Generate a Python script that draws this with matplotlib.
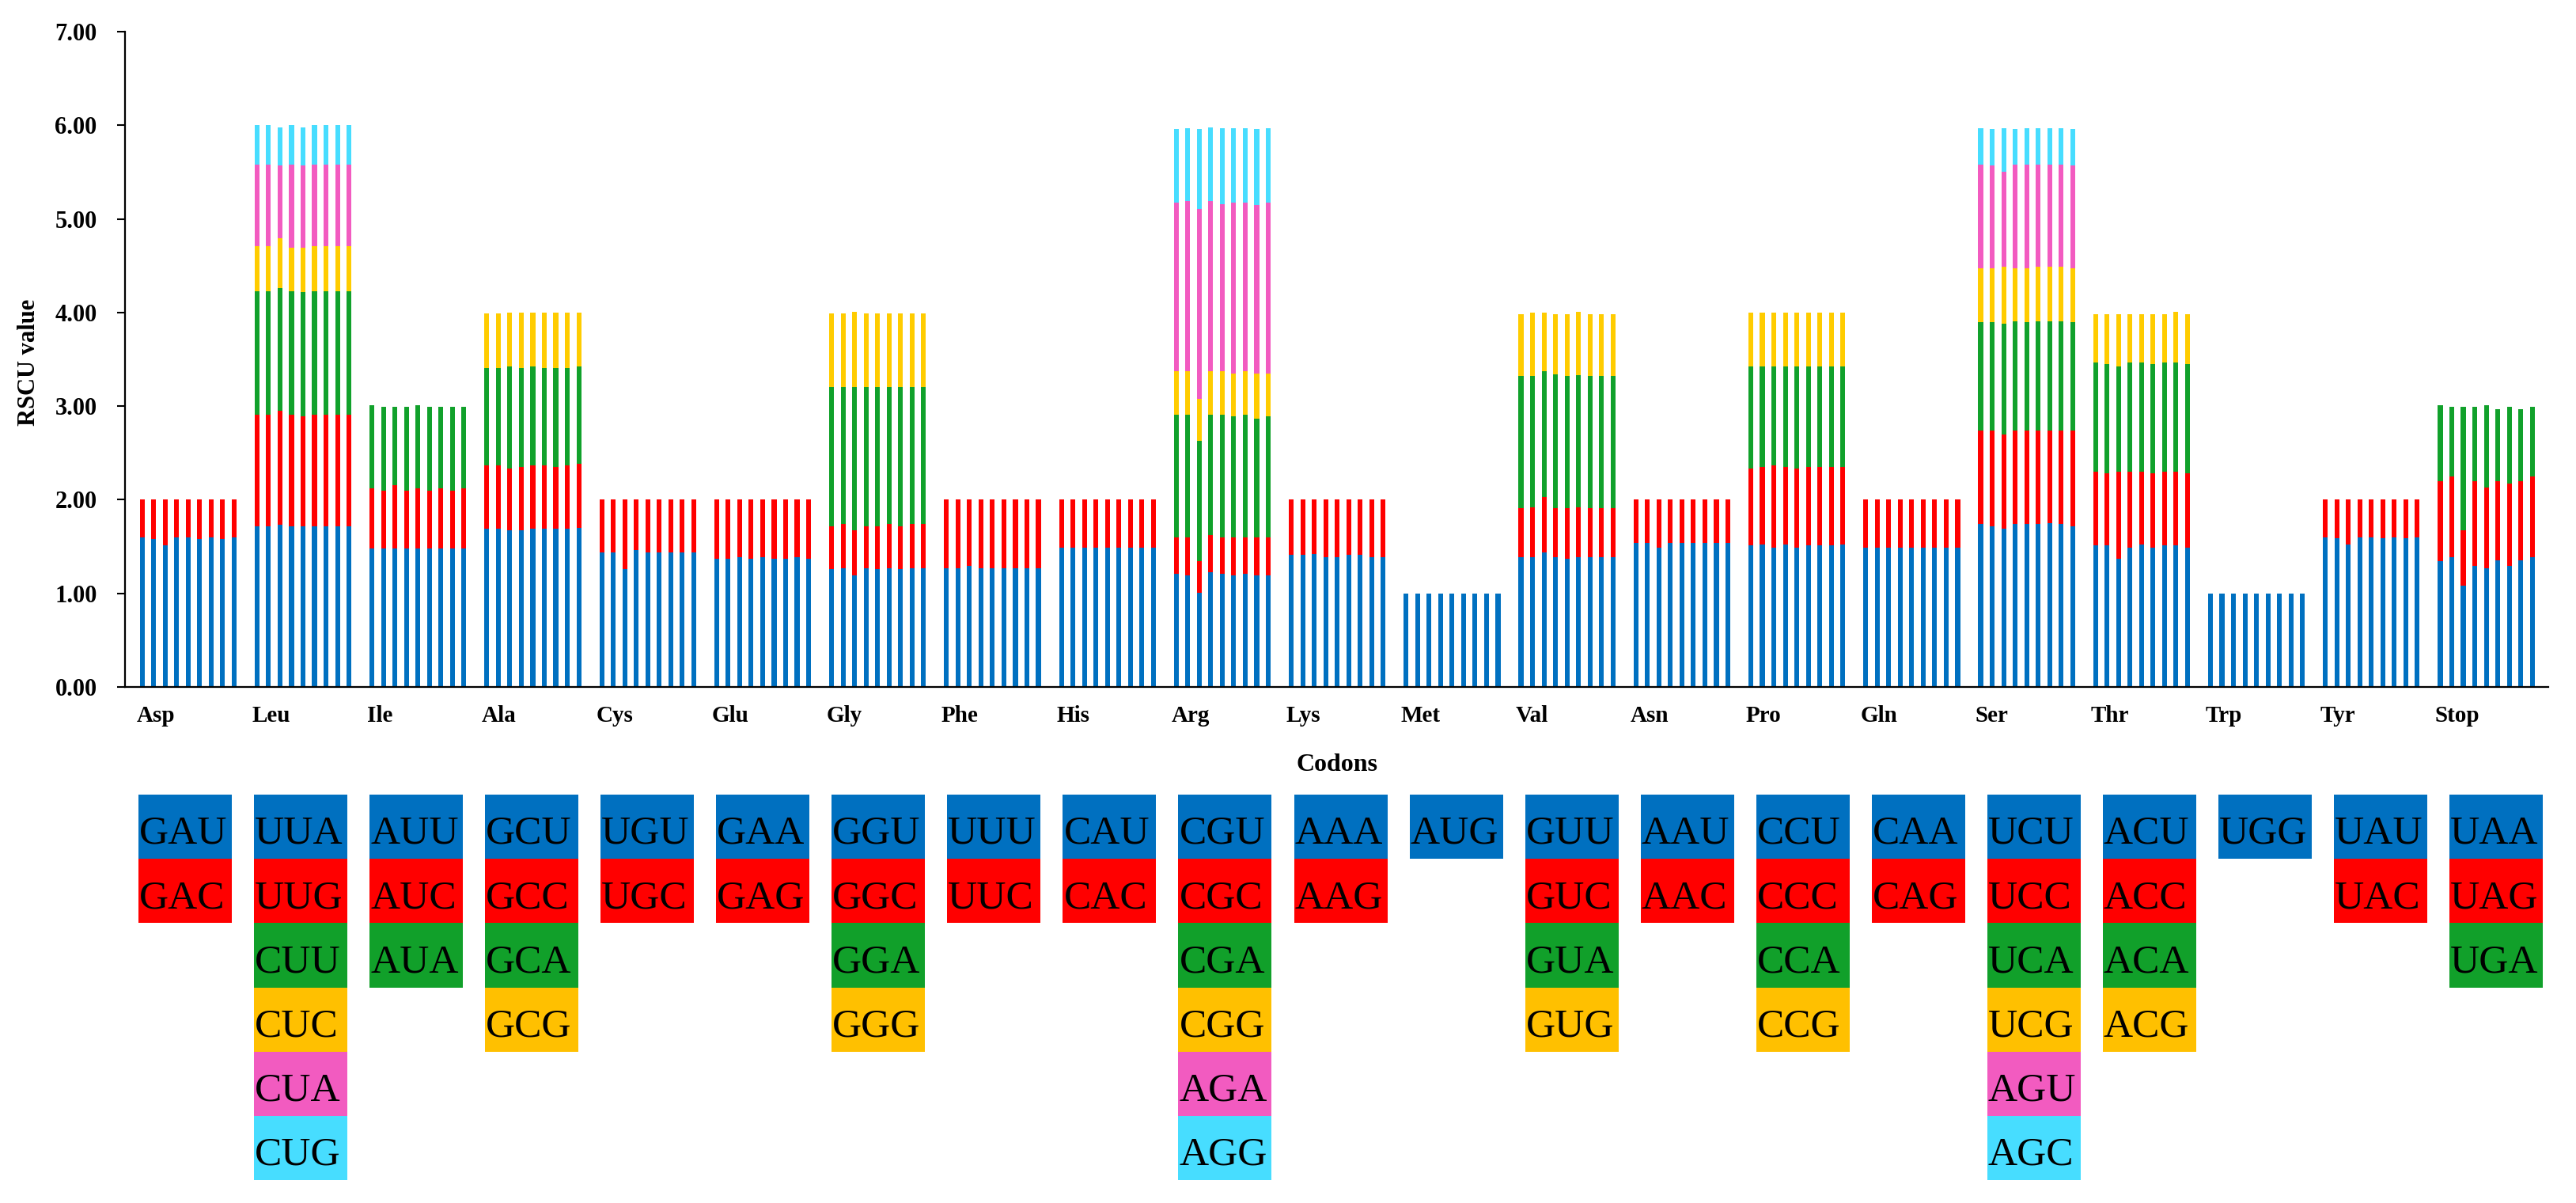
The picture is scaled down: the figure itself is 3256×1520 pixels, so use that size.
import matplotlib
matplotlib.use("Agg")
import matplotlib.pyplot as plt
from matplotlib.patches import Rectangle

# ---------------- data ----------------
amino_acids = ["Asp", "Leu", "Ile", "Ala", "Cys", "Glu", "Gly", "Phe", "His", "Arg", "Lys",
               "Met", "Val", "Asn", "Pro", "Gln", "Ser", "Thr", "Trp", "Tyr", "Stop"]

codons = [
    ["GAU", "GAC"],
    ["UUA", "UUG", "CUU", "CUC", "CUA", "CUG"],
    ["AUU", "AUC", "AUA"],
    ["GCU", "GCC", "GCA", "GCG"],
    ["UGU", "UGC"],
    ["GAA", "GAG"],
    ["GGU", "GGC", "GGA", "GGG"],
    ["UUU", "UUC"],
    ["CAU", "CAC"],
    ["CGU", "CGC", "CGA", "CGG", "AGA", "AGG"],
    ["AAA", "AAG"],
    ["AUG"],
    ["GUU", "GUC", "GUA", "GUG"],
    ["AAU", "AAC"],
    ["CCU", "CCC", "CCA", "CCG"],
    ["CAA", "CAG"],
    ["UCU", "UCC", "UCA", "UCG", "AGU", "AGC"],
    ["ACU", "ACC", "ACA", "ACG"],
    ["UGG"],
    ["UAU", "UAC"],
    ["UAA", "UAG", "UGA"],
]

# RSCU values, one list per codon, nine samples each
asp = [[1.60, 1.58, 1.51, 1.60, 1.60, 1.58, 1.60, 1.58, 1.60],
       [0.40, 0.42, 0.49, 0.40, 0.40, 0.42, 0.40, 0.42, 0.40]]
leu = [[1.72, 1.72, 1.73, 1.72, 1.72, 1.72, 1.72, 1.72, 1.72],
       [1.19, 1.19, 1.22, 1.19, 1.17, 1.19, 1.19, 1.19, 1.19],
       [1.32, 1.32, 1.31, 1.32, 1.33, 1.32, 1.32, 1.32, 1.32],
       [0.48, 0.48, 0.53, 0.46, 0.47, 0.48, 0.48, 0.48, 0.48],
       [0.87, 0.87, 0.78, 0.89, 0.88, 0.87, 0.87, 0.87, 0.87],
       [0.42, 0.42, 0.41, 0.42, 0.41, 0.42, 0.42, 0.42, 0.42]]
ile = [[1.48, 1.48, 1.48, 1.48, 1.48, 1.48, 1.48, 1.48, 1.48],
       [0.64, 0.62, 0.68, 0.62, 0.64, 0.62, 0.64, 0.62, 0.64],
       [0.89, 0.89, 0.83, 0.89, 0.89, 0.89, 0.87, 0.89, 0.87]]
ala = [[1.69, 1.69, 1.67, 1.67, 1.69, 1.69, 1.69, 1.69, 1.70],
       [0.68, 0.68, 0.66, 0.68, 0.68, 0.68, 0.66, 0.68, 0.68],
       [1.04, 1.04, 1.09, 1.06, 1.05, 1.04, 1.06, 1.04, 1.04],
       [0.58, 0.58, 0.58, 0.59, 0.58, 0.59, 0.59, 0.59, 0.58]]
cys = [[1.44, 1.44, 1.26, 1.46, 1.44, 1.44, 1.44, 1.44, 1.44],
       [0.56, 0.56, 0.74, 0.54, 0.56, 0.56, 0.56, 0.56, 0.56]]
glu = [[1.37, 1.37, 1.39, 1.37, 1.39, 1.37, 1.37, 1.39, 1.37],
       [0.63, 0.63, 0.61, 0.63, 0.61, 0.63, 0.63, 0.61, 0.63]]
gly = [[1.26, 1.27, 1.19, 1.27, 1.26, 1.27, 1.26, 1.27, 1.27],
       [0.46, 0.47, 0.48, 0.45, 0.46, 0.47, 0.46, 0.47, 0.47],
       [1.48, 1.46, 1.53, 1.48, 1.48, 1.46, 1.48, 1.46, 1.46],
       [0.79, 0.79, 0.81, 0.79, 0.79, 0.79, 0.79, 0.79, 0.79]]
phe = [[1.27, 1.27, 1.29, 1.27, 1.27, 1.27, 1.27, 1.27, 1.27],
       [0.73, 0.73, 0.71, 0.73, 0.73, 0.73, 0.73, 0.73, 0.73]]
his = [[1.49, 1.49, 1.49, 1.49, 1.49, 1.49, 1.49, 1.49, 1.49],
       [0.51, 0.51, 0.51, 0.51, 0.51, 0.51, 0.51, 0.51, 0.51]]
arg = [[1.21, 1.19, 1.01, 1.23, 1.21, 1.19, 1.21, 1.19, 1.19],
       [0.39, 0.41, 0.33, 0.39, 0.39, 0.41, 0.39, 0.41, 0.41],
       [1.31, 1.31, 1.29, 1.29, 1.31, 1.29, 1.31, 1.27, 1.29],
       [0.46, 0.46, 0.45, 0.46, 0.46, 0.46, 0.46, 0.48, 0.46],
       [1.80, 1.82, 2.03, 1.82, 1.79, 1.82, 1.80, 1.80, 1.82],
       [0.79, 0.78, 0.85, 0.79, 0.81, 0.80, 0.80, 0.81, 0.80]]
lys = [[1.41, 1.41, 1.42, 1.39, 1.39, 1.41, 1.41, 1.39, 1.39],
       [0.59, 0.59, 0.58, 0.61, 0.61, 0.59, 0.59, 0.61, 0.61]]
met = [[1.00, 1.00, 1.00, 1.00, 1.00, 1.00, 1.00, 1.00, 1.00]]
val = [[1.39, 1.39, 1.44, 1.39, 1.37, 1.39, 1.39, 1.39, 1.39],
       [0.52, 0.53, 0.59, 0.52, 0.54, 0.53, 0.52, 0.52, 0.52],
       [1.41, 1.40, 1.34, 1.43, 1.41, 1.41, 1.41, 1.41, 1.41],
       [0.66, 0.68, 0.63, 0.64, 0.66, 0.68, 0.66, 0.66, 0.66]]
asn = [[1.54, 1.54, 1.49, 1.54, 1.54, 1.54, 1.54, 1.54, 1.54],
       [0.46, 0.46, 0.51, 0.46, 0.46, 0.46, 0.46, 0.46, 0.46]]
pro = [[1.51, 1.52, 1.49, 1.52, 1.49, 1.51, 1.51, 1.51, 1.52],
       [0.82, 0.83, 0.88, 0.83, 0.84, 0.84, 0.84, 0.84, 0.83],
       [1.09, 1.07, 1.05, 1.07, 1.09, 1.07, 1.07, 1.07, 1.07],
       [0.58, 0.58, 0.58, 0.58, 0.58, 0.58, 0.58, 0.58, 0.58]]
gln = [[1.49, 1.49, 1.49, 1.49, 1.49, 1.49, 1.49, 1.49, 1.49],
       [0.51, 0.51, 0.51, 0.51, 0.51, 0.51, 0.51, 0.51, 0.51]]
ser = [[1.74, 1.72, 1.69, 1.74, 1.74, 1.74, 1.75, 1.74, 1.72],
       [1.00, 1.02, 1.01, 1.00, 1.00, 1.00, 0.99, 1.00, 1.02],
       [1.16, 1.16, 1.18, 1.17, 1.16, 1.17, 1.17, 1.17, 1.16],
       [0.57, 0.57, 0.61, 0.56, 0.57, 0.58, 0.58, 0.58, 0.57],
       [1.11, 1.10, 1.01, 1.11, 1.11, 1.09, 1.09, 1.09, 1.10],
       [0.39, 0.39, 0.47, 0.38, 0.39, 0.39, 0.39, 0.39, 0.39]]
thr = [[1.51, 1.51, 1.37, 1.49, 1.52, 1.49, 1.51, 1.51, 1.49],
       [0.79, 0.77, 0.93, 0.81, 0.78, 0.79, 0.79, 0.79, 0.79],
       [1.17, 1.17, 1.12, 1.17, 1.17, 1.17, 1.17, 1.17, 1.17],
       [0.51, 0.53, 0.56, 0.51, 0.51, 0.53, 0.51, 0.54, 0.53]]
trp = [[1.00, 1.00, 1.00, 1.00, 1.00, 1.00, 1.00, 1.00, 1.00]]
tyr = [[1.60, 1.59, 1.52, 1.60, 1.60, 1.59, 1.60, 1.59, 1.60],
       [0.40, 0.41, 0.48, 0.40, 0.40, 0.41, 0.40, 0.41, 0.40]]
stop = [[1.34, 1.39, 1.08, 1.29, 1.27, 1.35, 1.29, 1.35, 1.39],
        [0.86, 0.86, 0.59, 0.91, 0.86, 0.85, 0.88, 0.85, 0.86],
        [0.81, 0.74, 1.32, 0.79, 0.88, 0.77, 0.82, 0.77, 0.74]]

yticks = [0, 1, 2, 3, 4, 5, 6, 7]

groups = [asp, leu, ile, ala, cys, glu, gly, phe, his, arg, lys,
          met, val, asn, pro, gln, ser, thr, trp, tyr, stop]

# ---------------- style ----------------
bar_colors = ["#0070C0", "#FF0000", "#11A12B", "#FFCC00", "#F25BC0", "#47DDFF"]
box_colors = ["#0070C0", "#FF0000", "#11A02A", "#FFC000", "#F25BC0", "#47DDFF"]
SERIF = ["Liberation Serif", "DejaVu Serif"]

W, H = 3256, 1520
fig = plt.figure(figsize=(W / 100, H / 100), dpi=100)
fig.patch.set_facecolor("white")

ax_l, ax_r, ax_t, ax_b = 158, 3221, 40, 868
ax = fig.add_axes([ax_l / W, 1 - ax_b / H, (ax_r - ax_l) / W, (ax_b - ax_t) / H])

pitch = 0.1
bw = 0.042
for g, grp in enumerate(groups):
    n = len(grp[0])
    xs = [g + j * pitch for j in range(n)]
    bottom = [0.0] * n
    for k, vals in enumerate(grp):
        ax.bar(xs, vals, width=bw, bottom=bottom, color=bar_colors[k],
               linewidth=0, align="center", zorder=2)
        bottom = [b + v for b, v in zip(bottom, vals)]

ax.set_xlim(-0.149, 20.94)
ax.set_ylim(0, 7)
ax.set_yticks(yticks)
ax.set_yticklabels([f"{t:.2f}" for t in yticks], fontsize=22,
                   fontweight="bold", family=SERIF)
ax.set_xticks([])
for s in ["top", "right"]:
    ax.spines[s].set_visible(False)
for s in ["left", "bottom"]:
    ax.spines[s].set_linewidth(1.6)
    ax.spines[s].set_color("black")
ax.tick_params(axis="y", direction="out", length=7.5, width=1.5, pad=18)

# amino acid labels below axis
label_y = (ax_b - 905) / (ax_b - ax_t)
for g, name in enumerate(amino_acids):
    ax.text(g - 0.045, label_y, name, transform=ax.get_xaxis_transform(),
            ha="left", va="center", fontsize=21, fontweight="bold",
            family=SERIF, clip_on=False)

fig.text(37 / W, 1 - 458 / H, "RSCU value", rotation=90, ha="center",
         va="center", fontsize=22, fontweight="bold", family=SERIF)
fig.text((ax_l + ax_r) / 2 / W, 1 - 966 / H, "Codons", ha="center",
         va="center", fontsize=23, fontweight="bold", family=SERIF)

# codon table
tab = fig.add_axes([0, 0, 1, 1], zorder=-1)
tab.set_xlim(0, W)
tab.set_ylim(H, 0)
tab.axis("off")
tab.patch.set_alpha(0)
box_x0, box_dx, box_w = 175, 146.05, 118
row_y0, row_h = 1004, 81.2
for g, cl in enumerate(codons):
    x = box_x0 + g * box_dx
    for k, c in enumerate(cl):
        y = row_y0 + k * row_h
        tab.add_patch(Rectangle((x, y), box_w, row_h, facecolor=box_colors[k],
                                edgecolor="none"))
        tab.text(x + 1, y + 62, c, ha="left", va="baseline", fontsize=37,
                 family=SERIF, color="black")

fig.savefig("out.png", dpi=100, facecolor="white")
